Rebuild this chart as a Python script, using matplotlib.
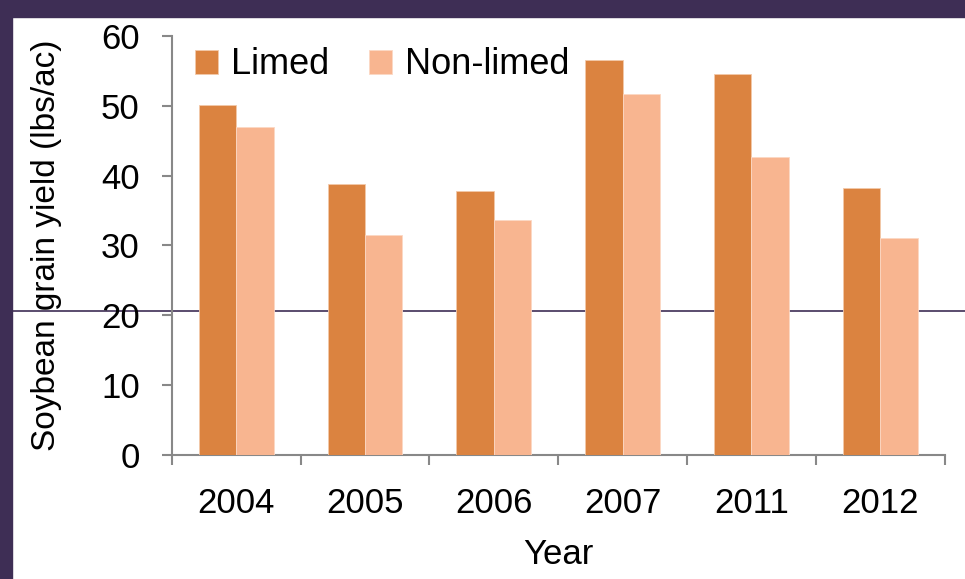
import matplotlib
matplotlib.use("Agg")
import matplotlib.pyplot as plt
from matplotlib.lines import Line2D
from matplotlib.patches import Rectangle
import numpy as np

plt.rcParams['font.family'] = ['Liberation Sans', 'DejaVu Sans']

years = ['2004', '2005', '2006', '2007', '2011', '2012']
limed = [50.1, 38.8, 37.8, 56.6, 54.6, 38.3]
non_limed = [47.0, 31.5, 33.7, 51.7, 42.7, 31.1]

c_limed = '#DB8340'
c_non = '#F8B590'
purple = '#3E2E55'
spine = '#888888'
fs = 25

fig = plt.figure(figsize=(9.65, 5.79), dpi=100)
fig.patch.set_facecolor('white')

# slide decoration: purple borders and thin horizontal rule
fig.add_artist(Rectangle((0, 0), 12/965, 1, transform=fig.transFigure,
                         color=purple, zorder=0))
fig.add_artist(Rectangle((0, 1 - 17/579), 1, 17/579, transform=fig.transFigure,
                         color=purple, zorder=0))
fig.add_artist(Line2D([12/965, 1], [1 - 311/579, 1 - 311/579],
                      transform=fig.transFigure, color=purple, lw=1.2, zorder=0))

ax = fig.add_axes([0.178, 0.214, 0.801, 0.724])
ax.set_facecolor('none')

x = np.arange(len(years))
w = 0.29
ax.bar(x - w/2, limed, w, color=c_limed, edgecolor='#F3C9A9', lw=0.6, label='Limed', zorder=3)
ax.bar(x + w/2, non_limed, w, color=c_non, edgecolor='#FCD8C4', lw=0.6, label='Non-limed', zorder=3)

ax.set_xlim(-0.5, len(years) - 0.5)
ax.set_ylim(0, 60)
ax.set_yticks(range(0, 61, 10))
ax.set_xticks(x)
ax.set_xticklabels(years)
ax.set_xticks(np.arange(-0.5, len(years), 1), minor=True)
ax.tick_params(axis='x', which='major', length=0, pad=23, labelsize=fs)
ax.tick_params(axis='x', which='minor', length=7, width=1.5, color=spine)
ax.tick_params(axis='y', length=7, width=1.5, color=spine, labelsize=fs, pad=16)

for s in ['top', 'right']:
    ax.spines[s].set_visible(False)
for s in ['left', 'bottom']:
    ax.spines[s].set_color(spine)
    ax.spines[s].set_linewidth(1.5)

ax.set_xlabel('Year', fontsize=fs, labelpad=13)
ax.set_ylabel('Soybean grain yield (lbs/ac)', fontsize=fs - 1, labelpad=28)

leg = ax.legend(loc='upper left', ncol=2, frameon=False, fontsize=fs + 1,
                handlelength=0.65, handleheight=0.65, handletextpad=0.35,
                columnspacing=1.1, bbox_to_anchor=(-0.012, 1.05))

fig.savefig('out.png', dpi=100)
